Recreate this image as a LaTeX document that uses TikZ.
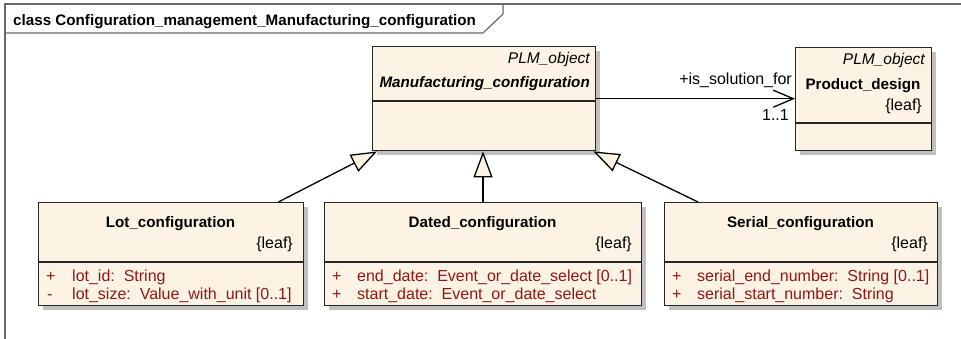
\documentclass[tikz,border=0pt]{standalone}
\usepackage{fontspec}
\setmainfont{Liberation Sans}
\usetikzlibrary{arrows.meta,calc,shadows}
\definecolor{umlfill}{RGB}{252,243,228}
\definecolor{attrred}{RGB}{145,22,22}
\definecolor{shadowgray}{RGB}{192,192,192}
\definecolor{framegray}{RGB}{105,105,105}
\begin{document}
\begin{tikzpicture}[x=1pt,y=-1pt,
  umlbox/.style={draw=black!85, line width=1.4pt, fill=umlfill, anchor=north west, inner sep=0pt,
    drop shadow={shadow xshift=4pt, shadow yshift=-4pt, fill=shadowgray, opacity=1}},
  divider/.style={draw=black!85, line width=1.4pt},
  txt/.style={inner sep=0pt, font=\fontsize{16}{18}\selectfont},
  bold/.style={txt, font=\fontsize{15.2}{18}\selectfont\bfseries},
  attr/.style={txt, text=attrred, anchor=base west},
  gen/.style={draw=black, line width=1.3pt, -{Triangle[length=26pt,width=19pt,fill=umlfill,line width=1.3pt]}},
  assoc/.style={draw=black, line width=1.3pt, -{Straight Barb[length=20pt,width=17pt,line width=1.3pt]}},
  framel/.style={draw=framegray, line width=1.2pt}]
\useasboundingbox (0,0) rectangle (961,339);
% frame
\draw[framel] (961,4) -- (5,4) -- (5,339);
\draw[framel] (5,33) -- (483,33) -- (503,14) -- (503,4);
\node[bold, anchor=base west] (title) at (13,26) {class Configuration\_management\_Manufacturing\_configuration};

% Manufacturing_configuration
\node[umlbox, minimum width=223pt, minimum height=104pt] (mc) at (372,46) {};
\draw[divider] (372,101) -- (595,101);
\node[txt, anchor=base east, font=\fontsize{15.5}{18}\selectfont\itshape] (mcst) at (590,64) {PLM\_object};
\node[txt, anchor=base east, font=\fontsize{15.2}{18}\selectfont\bfseries\itshape] (mcname) at (590,88) {Manufacturing\_configuration};

% Product_design
\node[umlbox, minimum width=136pt, minimum height=103pt] (pd) at (795,47) {};
\draw[divider] (795,123) -- (931,123);
\node[txt, anchor=base east, font=\fontsize{15.5}{18}\selectfont\itshape] (pdst) at (925,65) {PLM\_object};
\node[bold, anchor=base] (pdname) at (863,90) {Product\_design};
\node[txt, anchor=base east] (pdleaf) at (922,111) {\{leaf\}};

% Lot_configuration
\node[umlbox, minimum width=265pt, minimum height=103pt] (lot) at (38,202) {};
\draw[divider] (38,262) -- (303,262);
\node[bold, anchor=base] (lotname) at (170.5,228) {Lot\_configuration};
\node[txt, anchor=base east] (lotleaf) at (293,248) {\{leaf\}};
\node[attr] (lotp1) at (46,281) {+};
\node[attr] (lota1) at (72,281) {lot\_id:\ \ String};
\node[attr] (lotp2) at (47,299) {-};
\node[attr] (lota2) at (72,299) {lot\_size:\ \ Value\_with\_unit [0..1]};

% Dated_configuration
\node[umlbox, minimum width=317pt, minimum height=103pt] (dated) at (324,202) {};
\draw[divider] (324,262) -- (641,262);
\node[bold, anchor=base] (datedname) at (482.5,228) {Dated\_configuration};
\node[txt, anchor=base east] (datedleaf) at (632,248) {\{leaf\}};
\node[attr] (datedp1) at (332,281) {+};
\node[attr] (dateda1) at (357,281) {end\_date:\ \ Event\_or\_date\_select [0..1]};
\node[attr] (datedp2) at (332,299) {+};
\node[attr] (dateda2) at (357,299) {start\_date:\ \ Event\_or\_date\_select};

% Serial_configuration
\node[umlbox, minimum width=273pt, minimum height=103pt] (serial) at (664,202) {};
\draw[divider] (664,262) -- (937,262);
\node[bold, anchor=base] (serialname) at (800.5,228) {Serial\_configuration};
\node[txt, anchor=base east] (serialleaf) at (928,248) {\{leaf\}};
\node[attr] (serialp1) at (672,281) {+};
\node[attr] (seriala1) at (697,281) {serial\_end\_number:\ \ String [0..1]};
\node[attr] (serialp2) at (672,299) {+};
\node[attr] (seriala2) at (697,299) {serial\_start\_number:\ \ String};

% association
\draw[assoc] (mc.east) -- (mc.east -| pd.west);
\node[txt, anchor=base east] (role) at (792,85) {+is\_solution\_for};
\node[txt, anchor=base east] (mult) at (789,121) {1..1};

% generalizations
\draw[gen] ($(lot.north east)+(-26,0)$) -- ($(mc.south west)+(5,0)$);
\draw[gen] (dated.north -| 483,0) -- (mc.south -| 483,0);
\draw[gen] ($(serial.north west)+(34,0)$) -- ($(mc.south east)+(-3,0)$);
\end{tikzpicture}
\end{document}
